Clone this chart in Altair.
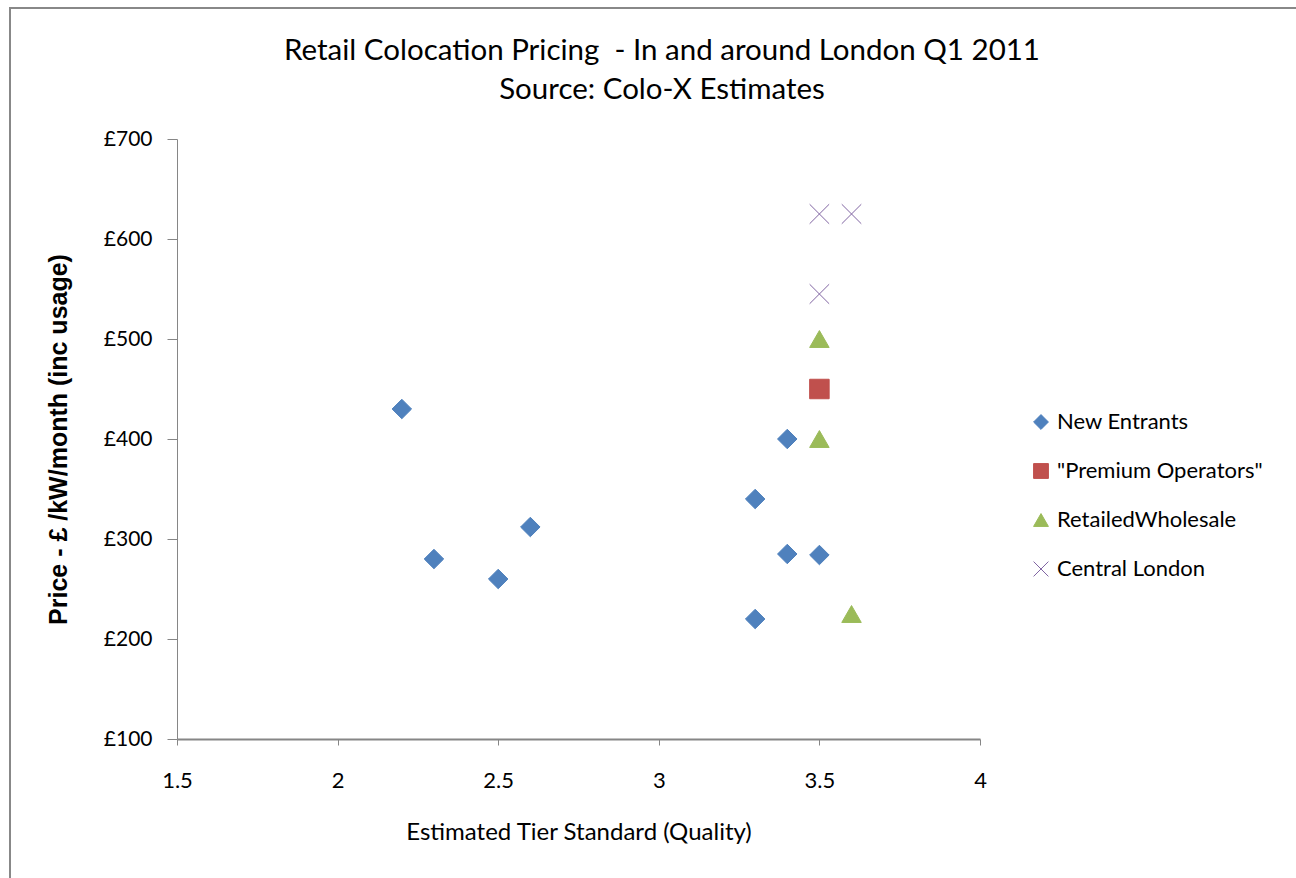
import altair as alt
import pandas as pd

series_names = ["New Entrants", "\"Premium Operators\"", "RetailedWholesale", "Central London"]
series_colors = ["#4F81BD", "#C0504D", "#9BBB59", "#8064A2"]
series_fills = ["#4F81BD", "#C0504D", "#9BBB59", "transparent"]
series_shapes = ["diamond", "square", "triangle-up", "M-1,-1L1,1M-1,1L1,-1"]

new_x = [2.2, 2.3, 2.5, 2.6, 3.3, 3.3, 3.4, 3.4, 3.5]
new_y = [430, 280, 260, 312, 340, 220, 400, 285, 284]
prem_x = [3.5]
prem_y = [450]
whol_x = [3.5, 3.5, 3.6]
whol_y = [500, 400, 225]
cent_x = [3.5, 3.6, 3.5]
cent_y = [625, 625, 545]

x_ticks = [1.5, 2, 2.5, 3, 3.5, 4]
y_ticks = [100, 200, 300, 400, 500, 600, 700]

title_lines = ["Retail Colocation Pricing \u00a0- In and around London Q1 2011", "Source: Colo-X Estimates"]

rows = []
for name, xs, ys in zip(series_names, [new_x, prem_x, whol_x, cent_x], [new_y, prem_y, whol_y, cent_y]):
    for a, b in zip(xs, ys):
        rows.append({"Series": name, "Tier": a, "Price": b})
df = pd.DataFrame(rows)

FONT = "Lato"

points = alt.Chart(df).mark_point(opacity=1, strokeWidth=1, size=380).encode(
    x=alt.X("Tier:Q", scale=alt.Scale(domain=[1.5, 4], nice=False, zero=False),
            axis=alt.Axis(values=x_ticks, title="Estimated Tier Standard (Quality)", grid=False,
                          labelExpr="datum.value", labelFontSize=22, labelPadding=25,
                          labelFlush=False,
                          titleFontSize=24, titleFontWeight="normal", titlePadding=29,
                          tickSize=6, domainColor="#868686", tickColor="#868686", domainWidth=2)),
    y=alt.Y("Price:Q", scale=alt.Scale(domain=[100, 700], nice=False, zero=False),
            axis=alt.Axis(values=y_ticks, title="Price - £ /kW/month (inc usage)",
                          labelExpr="'£' + datum.value", labelFontSize=21, labelPadding=15,
                          titleFont="Liberation Sans", titleFontSize=25, titleFontWeight="bold",
                          titlePadding=32,
                          tickSize=10, domainColor="#868686", tickColor="#868686",
                          gridColor="#868686", gridWidth=1)),
    fill=alt.Fill("Series:N", scale=alt.Scale(domain=series_names, range=series_fills),
                  legend=alt.Legend(title=None)),
    stroke=alt.Stroke("Series:N", scale=alt.Scale(domain=series_names, range=series_colors),
                      legend=alt.Legend(title=None)),
    shape=alt.Shape("Series:N", scale=alt.Scale(domain=series_names, range=series_shapes),
                    legend=alt.Legend(title=None)),
)

frame_df = pd.DataFrame({"k": [0]})
frame = alt.Chart(frame_df).mark_rect(fill="transparent", stroke="#888888", strokeWidth=2).encode(
    x=alt.value(10 - 177), x2=alt.value(1300 - 177),
    y=alt.value(8 - 139), y2=alt.value(882 - 139),
)

title_df = pd.DataFrame({"line": title_lines, "row": [0, 1]})
title = alt.Chart(title_df).mark_text(font=FONT, fontSize=29.5, color="#000000", align="center",
                                      baseline="middle").encode(
    text="line:N",
    x=alt.value(662 - 177),
    y=alt.Y("row:Q", scale=alt.Scale(domain=[0, 1], range=[51 - 139, 90 - 139]), axis=None),
)

chart = alt.layer(frame, title, points).properties(
    width=803, height=600,
    autosize=alt.AutoSizeParams(type="none"),
    padding={"left": 177, "top": 139, "right": 316, "bottom": 139},
    background="white",
).resolve_scale(y="independent").configure_view(stroke=None).configure_axis(
    labelFont=FONT, titleFont=FONT, labelColor="#000000", titleColor="#000000"
).configure_legend(
    orient="none", legendX=853, legendY=272, labelFont=FONT, labelFontSize=22,
    labelColor="#000000", symbolSize=220, rowPadding=27, labelOffset=5, symbolStrokeWidth=1,
    symbolOpacity=1, labelLimit=400
)

chart.save("out.html", embed_options={"renderer": "svg", "actions": False})
